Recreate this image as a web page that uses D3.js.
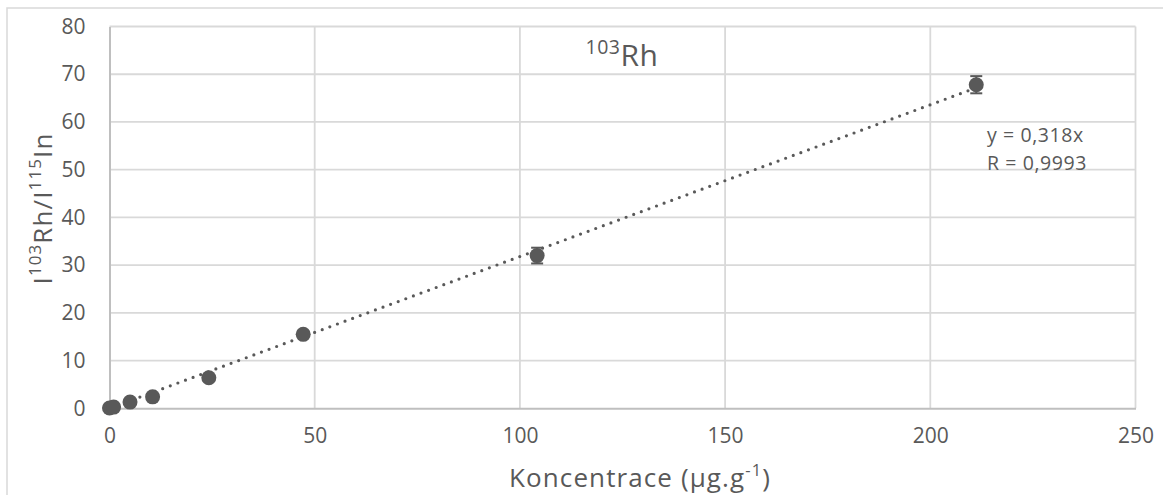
<!DOCTYPE html>
<html>
<head>
<meta charset="utf-8">
<script src="https://cdn.jsdelivr.net/npm/d3@7"></script>
<style>
  html, body { margin: 0; padding: 0; background: #fff; }
  svg { display: block; font-family: "Open Sans", Lato, sans-serif; }
</style>
</head>
<body>
<svg id="chart" width="1163" height="495"></svg>
<script>
// Calibration data for 103Rh (internal standard 115In)
const concentration = [0, 1.0, 5.0, 10.5, 24.2, 47.2, 104.2, 211.2];   // µg.g-1
const intensityRatio = [0.05, 0.25, 1.3, 2.4, 6.4, 15.5, 32.0, 67.8];
const ratioError = [0.02, 0.02, 0.1, 0.1, 0.2, 0.6, 1.65, 1.8];
const xTicks = [0, 50, 100, 150, 200, 250];
const yTicks = [0, 10, 20, 30, 40, 50, 60, 70, 80];
const slope = 0.318;
const fitLabel = ["y = 0,318x", "R = 0,9993"];

const textColor = "#595959";
const markColor = "#595959";
const gridColor = "#d9d9d9";
const axisColor = "#bfbfbf";
const fontFamily = "'Open Sans', Lato, sans-serif";

const svg = d3.select("#chart");

const x = d3.scaleLinear().domain([0, 250]).range([109.5, 1135.5]);
const y = d3.scaleLinear().domain([0, 80]).range([408.3, 26.5]);

// chart frame
svg.append("path")
  .attr("d", "M7,495 V8 H1163")
  .attr("fill", "none")
  .attr("stroke", gridColor)
  .attr("stroke-width", 1.5);

// gridlines
svg.append("g").selectAll("line.h")
  .data(yTicks.filter(d => d > 0))
  .join("line")
  .attr("x1", x(0)).attr("x2", x(250))
  .attr("y1", d => y(d)).attr("y2", d => y(d))
  .attr("stroke", gridColor).attr("stroke-width", 1.8);

svg.append("g").selectAll("line.v")
  .data(xTicks.filter(d => d > 0))
  .join("line")
  .attr("x1", d => x(d)).attr("x2", d => x(d))
  .attr("y1", y(0)).attr("y2", y(80))
  .attr("stroke", gridColor).attr("stroke-width", 1.8);

// axes
const xAxis = svg.append("g")
  .attr("transform", `translate(0,${y(0)})`)
  .call(d3.axisBottom(x).tickValues(xTicks).tickSize(0).tickPadding(20));
const yAxis = svg.append("g")
  .attr("transform", `translate(${x(0)},0)`)
  .call(d3.axisLeft(y).tickValues(yTicks).tickSize(0).tickPadding(24));

[xAxis, yAxis].forEach(g => {
  g.select(".domain").attr("stroke", axisColor).attr("stroke-width", 2);
  g.selectAll("text")
    .attr("fill", textColor)
    .attr("font-size", 21)
    .attr("font-family", fontFamily);
});

// fitted trendline y = slope * x
const xMax = d3.max(concentration);
svg.append("line")
  .attr("x1", x(0)).attr("y1", y(0))
  .attr("x2", x(xMax)).attr("y2", y(slope * xMax))
  .attr("stroke", markColor)
  .attr("stroke-width", 3.2)
  .attr("stroke-linecap", "round")
  .attr("stroke-dasharray", "0 8.1");

const points = concentration.map((c, i) => ({ c, r: intensityRatio[i], e: ratioError[i] }));

// error bars
const eb = svg.append("g").attr("stroke", markColor).attr("stroke-width", 2);
points.forEach(p => {
  eb.append("line")
    .attr("x1", x(p.c)).attr("x2", x(p.c))
    .attr("y1", y(p.r - p.e)).attr("y2", y(p.r + p.e));
  [p.r - p.e, p.r + p.e].forEach(v => {
    eb.append("line")
      .attr("x1", x(p.c) - 6).attr("x2", x(p.c) + 6)
      .attr("y1", y(v)).attr("y2", y(v));
  });
});

// markers
svg.append("g").selectAll("circle")
  .data(points)
  .join("circle")
  .attr("cx", d => x(d.c))
  .attr("cy", d => y(d.r))
  .attr("r", 7.5)
  .attr("fill", markColor);

// chart title 103Rh
const title = svg.append("text")
  .attr("x", 622).attr("y", 66)
  .attr("text-anchor", "middle")
  .attr("fill", textColor)
  .attr("font-size", 30)
  .attr("letter-spacing", 0.5);
title.append("tspan").attr("font-size", 19.5).attr("dy", -12).text("103");
title.append("tspan").attr("dy", 12).text("Rh");

// regression label
svg.append("g").selectAll("text")
  .data(fitLabel)
  .join("text")
  .attr("x", 987)
  .attr("y", (d, i) => 141.5 + i * 28.5)
  .attr("fill", textColor)
  .attr("font-size", 19.5)
  .attr("letter-spacing", 0.6)
  .text(d => d);

// x axis title
const xt = svg.append("text")
  .attr("x", 640).attr("y", 486.7)
  .attr("text-anchor", "middle")
  .attr("fill", textColor)
  .attr("font-size", 26)
  .attr("letter-spacing", 1.1);
xt.append("tspan").text("Koncentrace (µg.g");
xt.append("tspan").attr("font-size", 16.5).attr("dy", -11).text("-1");
xt.append("tspan").attr("dy", 11).text(")");

// y axis title
const yt = svg.append("text")
  .attr("transform", "translate(52,208.5) rotate(-90)")
  .attr("text-anchor", "middle")
  .attr("fill", textColor)
  .attr("font-size", 26)
  .attr("letter-spacing", 1.1);
yt.append("tspan").text("I");
yt.append("tspan").attr("font-size", 17).attr("dy", -11).text("103");
yt.append("tspan").attr("dy", 11).text("Rh/I");
yt.append("tspan").attr("font-size", 17).attr("dy", -11).text("115");
yt.append("tspan").attr("dy", 11).text("In");
</script>
</body>
</html>
